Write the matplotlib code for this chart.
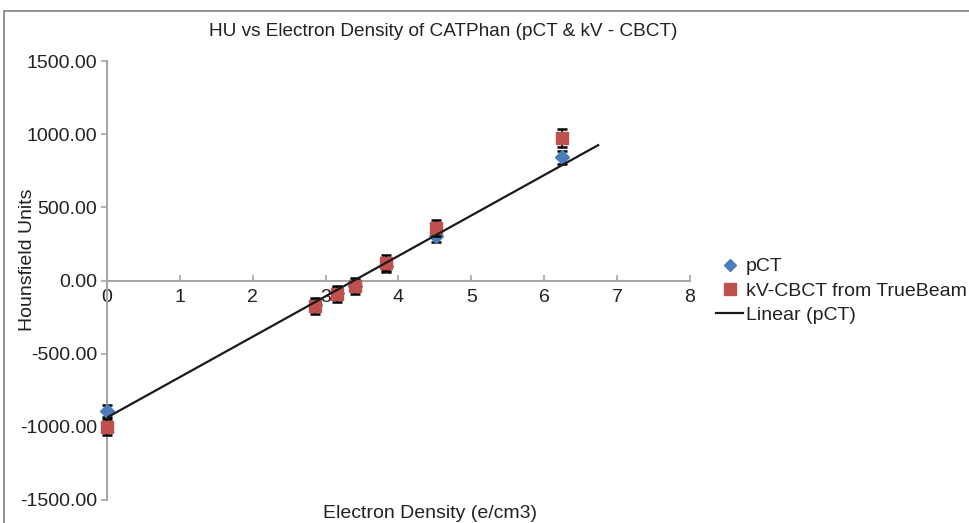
import numpy as np
import matplotlib
matplotlib.use("Agg")
import matplotlib.pyplot as plt
from matplotlib.lines import Line2D
from matplotlib.patches import Rectangle

plt.rcParams['font.family'] = ['Liberation Sans', 'DejaVu Sans']

# Data (electron density e/cm3, HU)
density = [0.0, 2.85, 3.16, 3.40, 3.83, 4.52, 6.24]
hu_pct = [-890, -165, -85, -35, 100, 306, 843]
hu_cbct = [-1000, -175, -90, -35, 120, 360, 975]
err_pct = [40, 40, 40, 40, 40, 40, 45]
err_cbct = [55, 55, 55, 55, 55, 55, 60]
x_ticks = [0, 1, 2, 3, 4, 5, 6, 7, 8]
y_ticks = [-1500, -1000, -500, 0, 500, 1000, 1500]
trend_forward = 0.5

fig = plt.figure(figsize=(9.70, 5.23), dpi=100)
ax = fig.add_axes([107/970, 1-500/523, 583/970, 439/523])

blue = '#4a7ebb'
red = '#c0504d'
gray = '#a6a6a6'

ax.errorbar(density, hu_pct, yerr=err_pct, fmt='none', ecolor='black',
            elinewidth=1.3, capsize=3.5, capthick=1.8, zorder=2, clip_on=False)
ax.plot(density, hu_pct, linestyle='none', marker='D', markersize=7.5,
        color=blue, zorder=3, clip_on=False)
ax.errorbar(density, hu_cbct, yerr=err_cbct, fmt='none', ecolor='black',
            elinewidth=1.3, capsize=3.5, capthick=1.8, zorder=4, clip_on=False)
ax.plot(density, hu_cbct, linestyle='none', marker='s', markersize=9,
        color=red, zorder=5, clip_on=False)

# Linear trendline of pCT (Excel-style, forward 0.5)
slope, intercept = np.polyfit(density, hu_pct, 1)
xf = np.array([min(density), max(density) + trend_forward])
ax.plot(xf, slope * xf + intercept, color='#1a1a1a', lw=1.6, zorder=6)

ax.set_xlim(0, 8)
ax.set_ylim(-1500, 1500)
ax.set_xticks(x_ticks)
ax.set_yticks(y_ticks)
ax.set_yticklabels([f"{v:.2f}" for v in y_ticks])

ax.spines['top'].set_visible(False)
ax.spines['right'].set_visible(False)
ax.spines['bottom'].set_position(('data', 0))
for s in ('left', 'bottom'):
    ax.spines[s].set_color(gray)
    ax.spines[s].set_linewidth(1.5)
ax.tick_params(axis='x', direction='in', length=4, width=1.2, color=gray,
               labelsize=14, pad=6, labelcolor='#222222')
ax.tick_params(axis='y', direction='out', length=4, width=1.2, color=gray,
               labelsize=14, pad=3, labelcolor='#222222')

fig.text(443/970, 1-32/523, 'HU vs Electron Density of CATPhan (pCT & kV - CBCT)',
         ha='center', va='center', fontsize=13.7, color='#222222')
fig.text(430/970, 1-513/523, 'Electron Density (e/cm3)', ha='center',
         va='center', fontsize=14, color='#222222')
fig.text(28/970, 1-260/523, 'Hounsfield Units', ha='center', va='center',
         rotation=90, fontsize=14, color='#222222')

handles = [
    Line2D([], [], linestyle='none', marker='D', markersize=6, color=blue),
    Line2D([], [], linestyle='none', marker='s', markersize=8, color=red),
    Line2D([], [], color='#1a1a1a', lw=1.6),
]
labels = ['pCT', 'kV-CBCT from TrueBeam', 'Linear (pCT)']
fig.legend(handles, labels, loc='center left', bbox_to_anchor=(716/970, 1-291/523),
           frameon=False, fontsize=14, handlelength=1.4, handletextpad=0.15,
           labelspacing=0.35, borderpad=0, borderaxespad=0, labelcolor='#222222')

fig.patches.append(Rectangle((4/970, -0.02), 1.0, 1-11/523 + 0.02,
                             transform=fig.transFigure, fill=False,
                             edgecolor='#7f7f7f', lw=1.2))

fig.savefig('out.png', dpi=100)
